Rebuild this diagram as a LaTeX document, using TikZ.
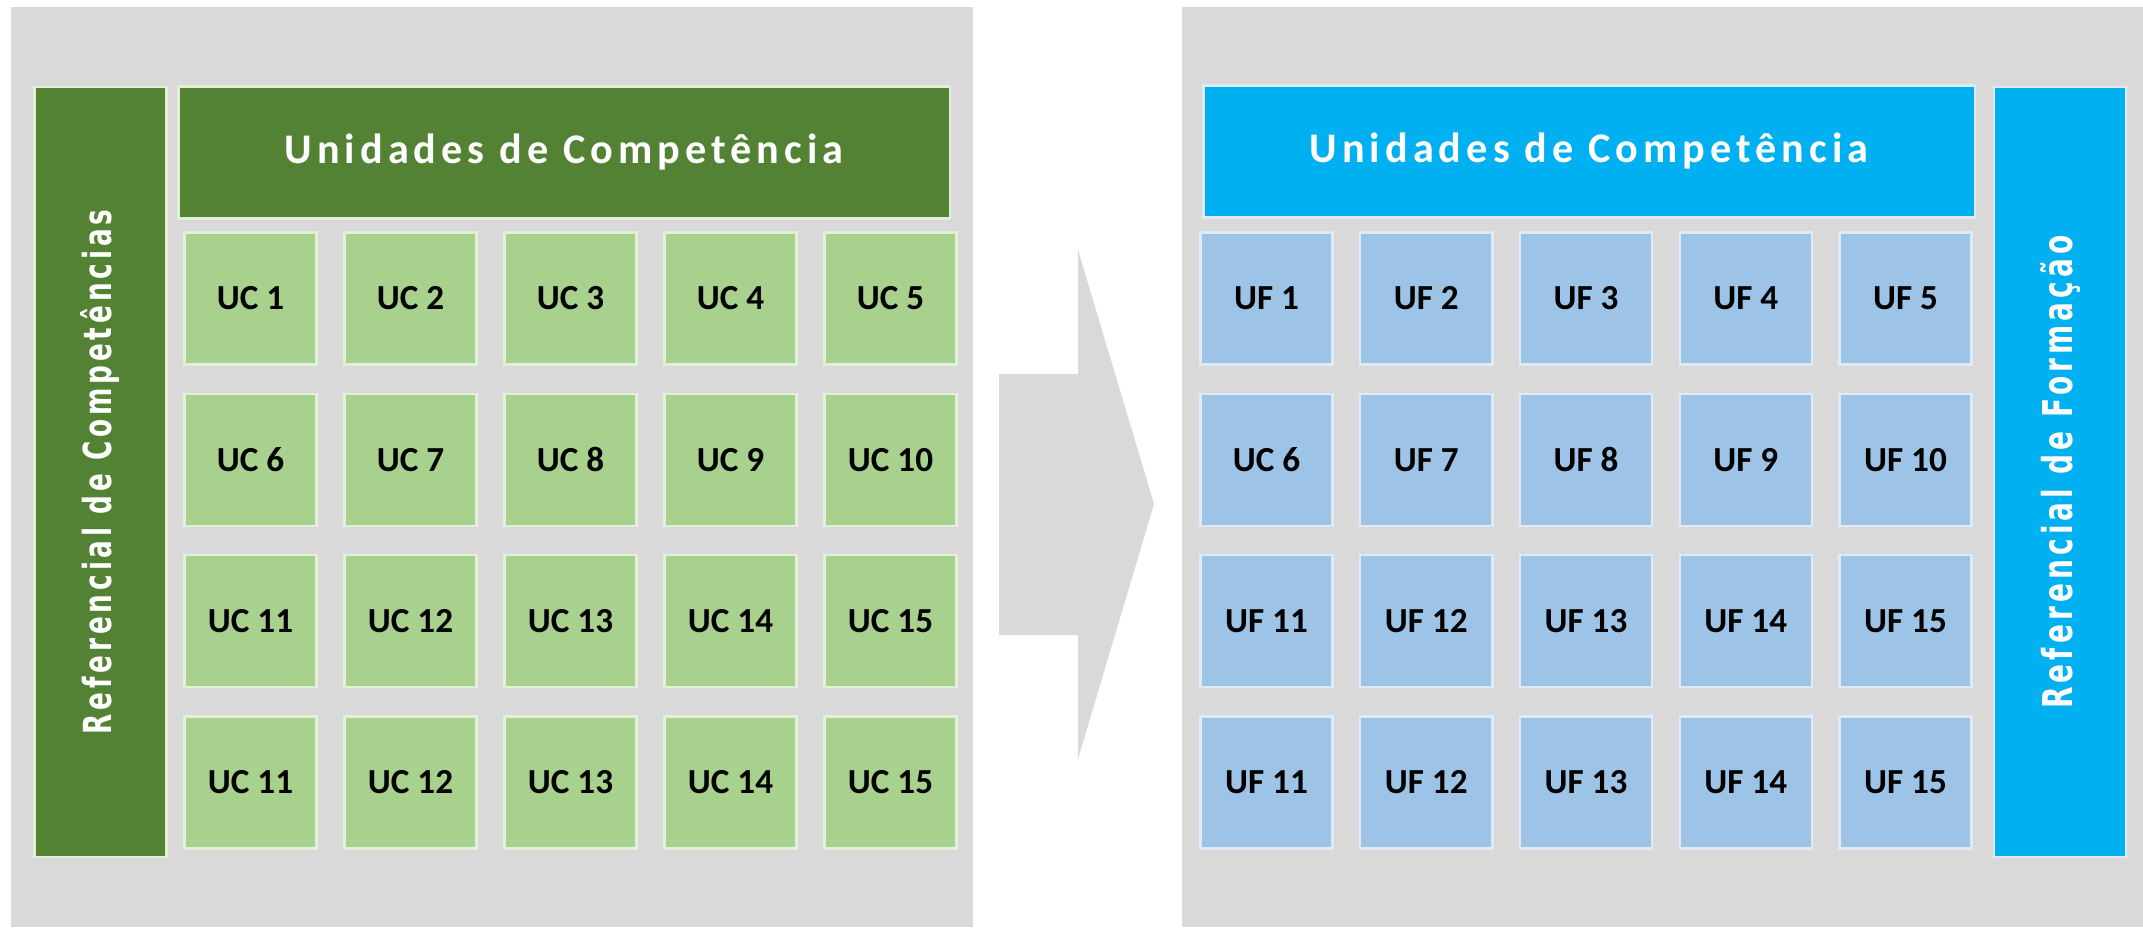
\documentclass[tikz,border=0pt]{standalone}
\usepackage{fontspec}
\setmainfont{Carlito}
\newfontfamily\headfont{Carlito}[LetterSpace=12]
\newfontfamily\barfont{DejaVu Sans}[FakeStretch=0.68,LetterSpace=10]
\usepackage{tikz}
\usetikzlibrary{positioning,calc}
\usepackage{xcolor}
\definecolor{panelgray}{RGB}{217,217,217}
\definecolor{darkgreen}{RGB}{84,130,53}
\definecolor{lightgreen}{RGB}{169,209,142}
\definecolor{greenline}{RGB}{226,240,217}
\definecolor{brightblue}{RGB}{0,176,240}
\definecolor{lightblue}{RGB}{157,195,230}
\definecolor{blueline}{RGB}{222,235,247}

\begin{document}
\begin{tikzpicture}[x=0.01cm,y=-0.01cm,
    cellbox/.style={inner sep=0pt, minimum width=1.32cm, minimum height=1.32cm,
        line width=0.7pt, font=\fontsize{10}{12}\selectfont\bfseries},
    ucbox/.style={cellbox, fill=lightgreen, draw=greenline},
    ufbox/.style={cellbox, fill=lightblue, draw=blueline},
    headbox/.style={inner sep=0pt, minimum width=7.71cm, minimum height=1.32cm,
        line width=0.7pt, text=white, font=\fontsize{12}{14}\headfont\bfseries},
    barbox/.style={inner sep=0pt, rotate=90, minimum width=7.70cm, minimum height=1.32cm,
        line width=0.7pt, text=white, font=\fontsize{11}{13}\barfont\bfseries}]
    \useasboundingbox (0,0) rectangle (2143,927);

    % Panels
    \fill[panelgray] (11,7) rectangle (973,927);
    \fill[panelgray] (1182,7) rectangle (2143,927);

    % Arrow between panels
    \fill[panelgray] (999,374) -- (1078,374) -- (1078,250) -- (1154,504)
        -- (1078,759) -- (1078,635) -- (999,635) -- cycle;

    % Competence side
    \node[barbox, fill=darkgreen, draw=greenline] (refComp) at (100.5,472) {Referencial de Competências};
    \node[headbox, fill=darkgreen, draw=greenline] (ucHead) at (564,152.5) {Unidades de Competência};
    \foreach \lbl [count=\i from 0] in {UC 1,UC 2,UC 3,UC 4,UC 5,UC 6,UC 7,UC 8,UC 9,UC 10,
        UC 11,UC 12,UC 13,UC 14,UC 15,UC 11,UC 12,UC 13,UC 14,UC 15} {
        \pgfmathtruncatemacro\col{mod(\i,5)}
        \pgfmathtruncatemacro\row{div(\i,5)}
        \node[ucbox] (uc\i) at (250.5+160*\col, 298.5+161.3*\row) {\lbl};
    }

    % Training side
    \node[headbox, fill=brightblue, draw=blueline] (ufHead) at (1589,151.5) {Unidades de Competência};
    \node[barbox, fill=brightblue, draw=blueline, font=\fontsize{11.7}{13}\barfont\bfseries] (refForm) at (2060,472) {Referencial de Formação};
    \foreach \lbl [count=\i from 0] in {UF 1,UF 2,UF 3,UF 4,UF 5,UC 6,UF 7,UF 8,UF 9,UF 10,
        UF 11,UF 12,UF 13,UF 14,UF 15,UF 11,UF 12,UF 13,UF 14,UF 15} {
        \pgfmathtruncatemacro\col{mod(\i,5)}
        \pgfmathtruncatemacro\row{div(\i,5)}
        \node[ufbox] (uf\i) at (1266.5+159.75*\col, 298.5+161.3*\row) {\lbl};
    }
\end{tikzpicture}
\end{document}
